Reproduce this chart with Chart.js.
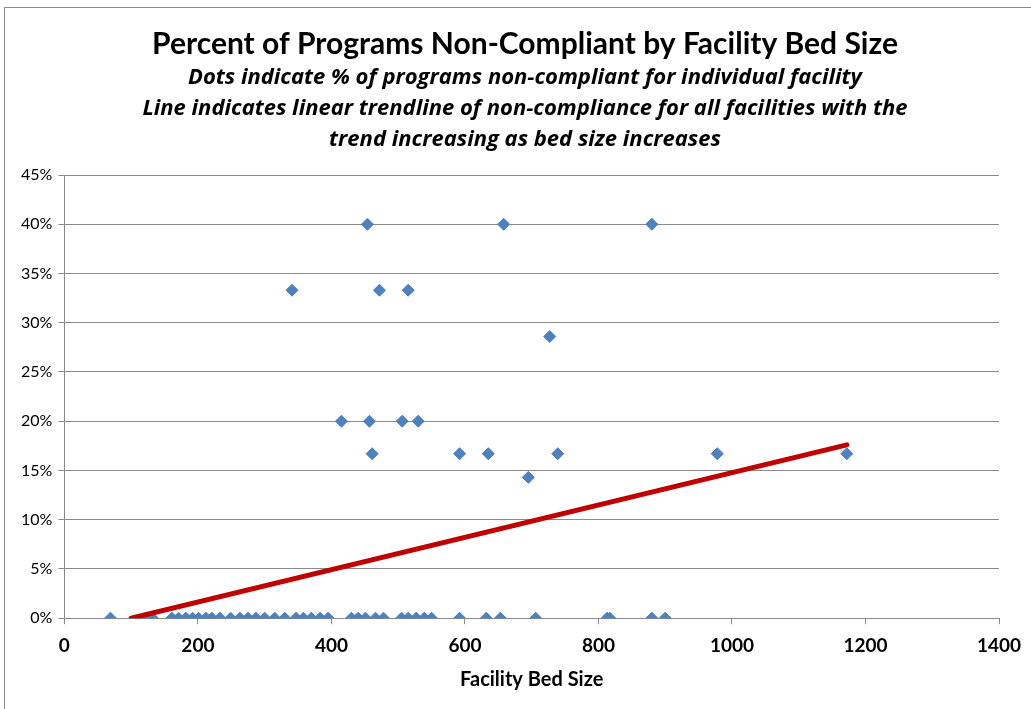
<!DOCTYPE html>
<html>
<head>
<meta charset="utf-8">
<script src="https://cdn.jsdelivr.net/npm/chart.js@4.4.0/dist/chart.umd.min.js"></script>
<style>
  html, body { margin: 0; padding: 0; background: #fff; overflow: hidden; }
  #frame {
    position: absolute; left: 4px; top: 7px;
    width: 1041px; height: 702px;
    border-left: 1px solid #8a8a8a; border-top: 1px solid #8a8a8a;
  }
  #chart { display: block; }
</style>
</head>
<body>
<div id="frame"><canvas id="chart" width="1040" height="701"></canvas></div>
<script>
// Facilities with 0% non-compliance (bed size)
const zeroBeds = [69, 122, 132, 161, 171, 182, 192, 201, 212, 221, 233, 249, 263, 275, 287, 300,
    315, 330, 347, 358, 370, 383, 395, 430, 440, 451, 466, 478, 505, 515, 527, 539, 550,
    592, 632, 653, 706, 813, 817, 880, 900];

// Facilities with some non-compliance
const otherBeds = [454, 658, 880, 341, 472, 515, 727, 415, 457, 506, 530, 461, 592, 635, 739, 978, 1172, 695];
const otherPct  = [40, 40, 40, 33.3, 33.3, 33.3, 28.6, 20, 20, 20, 20, 16.7, 16.7, 16.7, 16.7, 16.7, 16.7, 14.3];

// Linear trendline ends
const trendBeds = [100, 1172];
const trendPct  = [0, 17.6];

const yTicks = [0, 5, 10, 15, 20, 25, 30, 35, 40, 45];

const titleText = 'Percent of Programs Non-Compliant by Facility Bed Size';
const subtitleLines = [
    'Dots indicate % of programs non-compliant for individual facility',
    'Line indicates linear trendline of non-compliance for all facilities with the',
    'trend increasing as bed size increases'
];

const gridGray = '#8a8a8a';
const font = 'Lato, "Open Sans", sans-serif';

const points = zeroBeds.map(b => ({ x: b, y: 0 }))
    .concat(otherBeds.map((b, i) => ({ x: b, y: otherPct[i] })));
const trend = trendBeds.map((b, i) => ({ x: b, y: trendPct[i] }));

// Excel centres its title on the whole chart object, so draw it ourselves
const excelTitle = {
    id: 'excelTitle',
    afterDraw(chart) {
        const ctx = chart.ctx;
        const cx = chart.width / 2;
        ctx.save();
        ctx.fillStyle = '#000';
        ctx.textAlign = 'center';
        ctx.textBaseline = 'middle';
        ctx.font = 'bold 30px ' + font;
        ctx.fillText(titleText, cx, 36);
        ctx.font = 'italic bold 22px "Open Sans", sans-serif';
        subtitleLines.forEach((t, i) => ctx.fillText(t, cx, 70 + i * 31));
        ctx.restore();
    }
};

new Chart(document.getElementById('chart').getContext('2d'), {
    type: 'scatter',
    data: {
        datasets: [{
            type: 'line',
            data: trend,
            borderColor: '#C00000',
            borderWidth: 5,
            borderCapStyle: 'round',
            pointRadius: 0,
            fill: false,
            order: 0
        }, {
            data: points,
            pointStyle: 'rectRot',
            pointRadius: 6,
            backgroundColor: '#4F81BD',
            borderColor: '#4A7EBB',
            borderWidth: 1,
            order: 1
        }]
    },
    options: {
        responsive: false,
        animation: false,
        layout: { padding: { top: 167, right: 46, left: 10, bottom: 17 } },
        plugins: {
            legend: { display: false },
            tooltip: { enabled: false }
        },
        scales: {
            x: {
                type: 'linear',
                min: 0, max: 1400,
                ticks: {
                    stepSize: 200, color: '#000', padding: 10,
                    font: { family: font, size: 19, weight: 'bold' },
                    callback: v => String(v)
                },
                grid: { drawOnChartArea: false, color: gridGray, tickLength: 6 },
                border: { color: gridGray },
                title: {
                    display: true, text: 'Facility Bed Size', color: '#000',
                    padding: { top: 1, bottom: 0 },
                    font: { family: font, size: 20, weight: 'bold' }
                }
            },
            y: {
                min: 0, max: 45,
                afterBuildTicks: axis => { axis.ticks = yTicks.map(v => ({ value: v })); },
                ticks: { color: '#000', padding: 6, font: { family: font, size: 16 }, callback: v => v + '%' },
                grid: { color: gridGray, tickLength: 6 },
                border: { color: gridGray }
            }
        }
    },
    plugins: [excelTitle]
});
</script>
</body>
</html>
